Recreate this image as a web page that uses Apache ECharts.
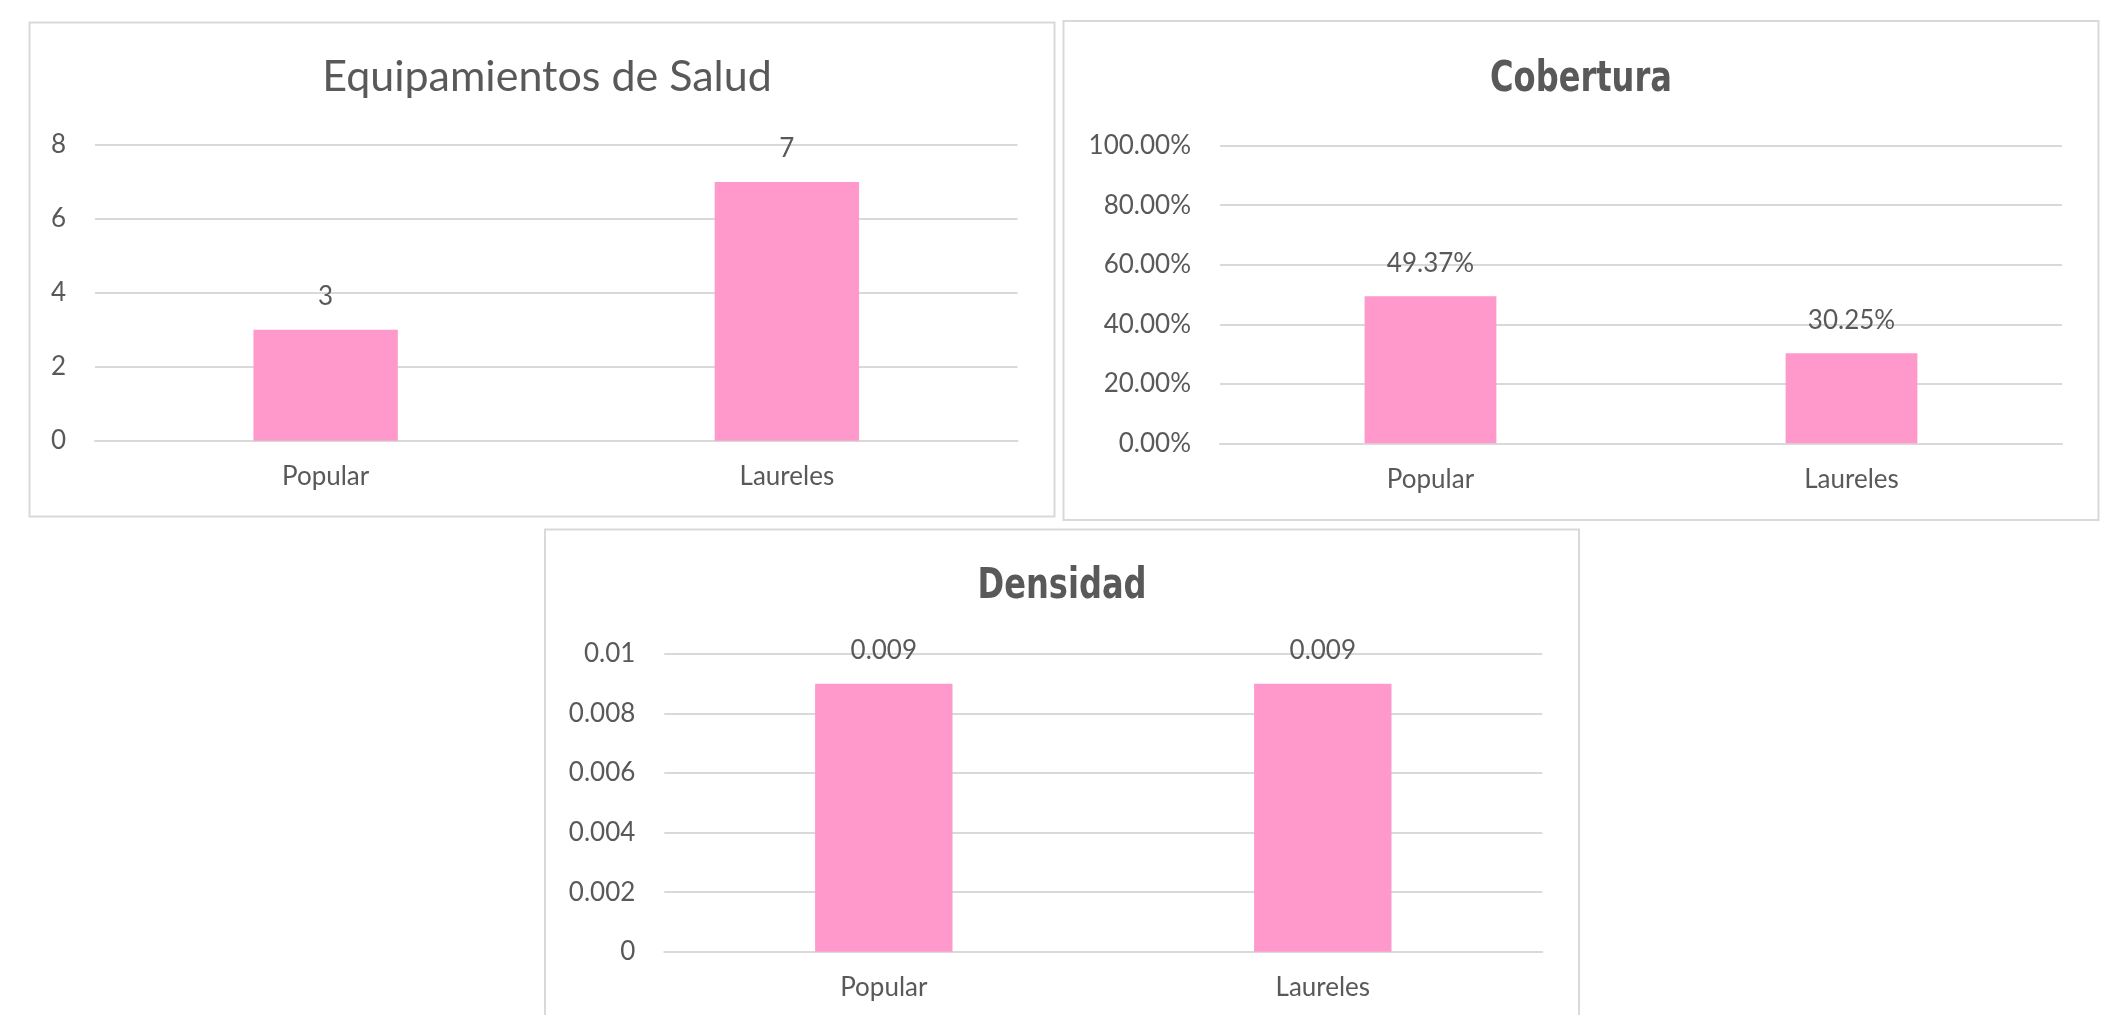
<!DOCTYPE html>
<html><head><meta charset="utf-8">
<script src="https://cdn.jsdelivr.net/npm/echarts@6/dist/echarts.min.js"></script>
<style>html,body{margin:0;padding:0;background:#fff;overflow:hidden}#c{width:2102px;height:1015px}</style>
</head><body><div id="c"></div>
<script>
// ---- data ----
const categories = ['Popular', 'Laureles'];
const equipamientos = [3, 7];
const cobertura = [0.4937, 0.3025];
const densidad = [0.009, 0.009];
const titles = ['Equipamientos de Salud', 'Cobertura', 'Densidad'];
const ticksEquip = [0, 2, 4, 6, 8];
const ticksCob = ['0.00%', '20.00%', '40.00%', '60.00%', '80.00%', '100.00%'];
const ticksDens = ['0', '0.002', '0.004', '0.006', '0.008', '0.01'];

// ---- style ----
const TXT = '#595959', GRID = '#d9d9d9', BAR = '#ff99cc';
const FONT = 'Lato, "Open Sans", sans-serif';
const BFONT = '"DejaVu Sans Condensed", "DejaVu Sans", sans-serif';

const chart = echarts.init(document.getElementById('c'), null, {renderer: 'canvas'});

const grids = [
  {left: 95, top: 145, width: 922.5, height: 295.7},
  {left: 1220, top: 145.7, width: 842, height: 297.6},
  {left: 664.3, top: 654, width: 878, height: 297.7}
];
const yCfg = [
  {max: 8, interval: 2, fmt: v => String(ticksEquip[Math.round(v / 2)])},
  {max: 1, interval: 0.2, fmt: v => ticksCob[Math.round(v / 0.2)]},
  {max: 0.01, interval: 0.002, fmt: v => ticksDens[Math.round(v / 0.002)]}
];
const labelFmt = [
  v => String(v),
  v => (v * 100).toFixed(2) + '%',
  v => v.toFixed(3)
];
const seriesData = [equipamientos, cobertura, densidad];

function boldTitle(text, x, y) {
  return {type: 'text', x: x, y: y, scaleX: 0.83, silent: true,
    style: {text: text, x: 0, y: 0, fill: TXT, textAlign: 'center', textVerticalAlign: 'middle',
            font: 'bold 43px ' + BFONT}};
}

const option = {
  animation: false,
  backgroundColor: '#fff',
  graphic: [
    {type: 'rect', shape: {x: 29.5, y: 22.5, width: 1025, height: 494}, style: {fill: 'none', stroke: GRID, lineWidth: 2}, silent: true},
    {type: 'rect', shape: {x: 1063.5, y: 21, width: 1035, height: 499}, style: {fill: 'none', stroke: GRID, lineWidth: 2}, silent: true},
    {type: 'rect', shape: {x: 545, y: 529.5, width: 1034, height: 520}, style: {fill: 'none', stroke: GRID, lineWidth: 2}, silent: true},
    boldTitle(titles[1], 1581, 79.5),
    boldTitle(titles[2], 1062, 586.5)
  ],
  title: [
    {text: titles[0], left: 542, top: 51, textAlign: 'center',
     textStyle: {fontFamily: FONT, fontWeight: 'normal', fontSize: 43, color: TXT}}
  ],
  grid: grids.map(g => Object.assign({containLabel: false}, g)),
  xAxis: grids.map((g, i) => ({
    type: 'category', gridIndex: i, data: categories,
    axisLine: {show: true, lineStyle: {color: GRID, width: 2}},
    axisTick: {show: false},
    axisLabel: {color: TXT, fontFamily: FONT, fontSize: 26, margin: 23}
  })),
  yAxis: yCfg.map((c, i) => ({
    type: 'value', gridIndex: i, min: 0, max: c.max, interval: c.interval,
    axisLine: {show: false}, axisTick: {show: false},
    splitLine: {show: true, lineStyle: {color: GRID, width: 2}},
    axisLabel: {color: TXT, fontFamily: FONT, fontSize: 26, margin: 29, formatter: c.fmt}
  })),
  series: seriesData.map((d, i) => ({
    type: 'bar', xAxisIndex: i, yAxisIndex: i, data: d,
    barWidth: '31.3%',
    itemStyle: {color: BAR},
    label: {show: true, position: 'top', distance: 20, color: TXT,
            fontFamily: FONT, fontSize: 26, formatter: p => labelFmt[i](p.value)}
  }))
};
chart.setOption(option);
</script>
</body></html>
